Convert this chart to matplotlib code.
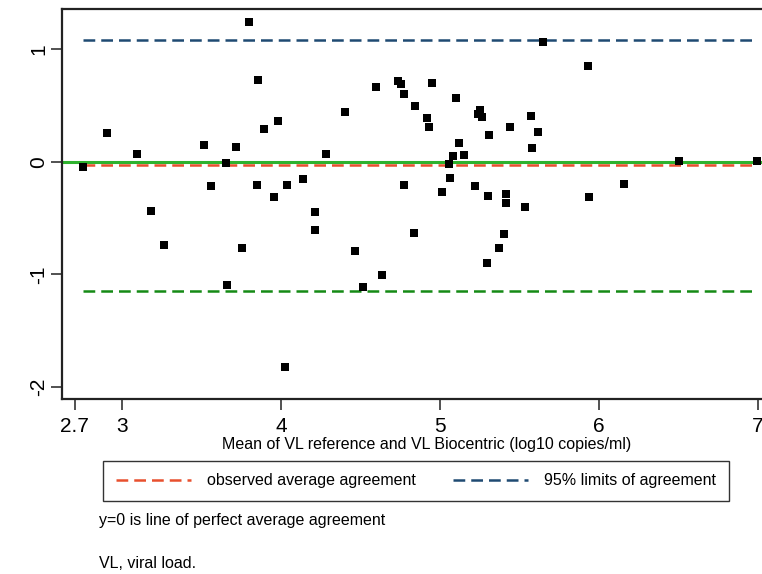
import matplotlib.pyplot as plt
from matplotlib.lines import Line2D

plt.rcParams['font.family'] = ['Liberation Sans', 'DejaVu Sans']

# mean of the two measurements (log10 copies/ml) and their difference
mean_vl = [2.754, 2.905, 3.094, 3.180, 3.260, 3.516, 3.558, 3.654, 3.659, 3.715,
           3.755, 3.797, 3.848, 3.852, 3.893, 3.955, 3.980, 4.024, 4.035, 4.139,
           4.213, 4.213, 4.280, 4.400, 4.465, 4.513, 4.599, 4.633, 4.734, 4.754,
           4.773, 4.775, 4.838, 4.845, 4.918, 4.933, 4.948, 5.013, 5.059, 5.063,
           5.084, 5.103, 5.118, 5.149, 5.218, 5.237, 5.250, 5.263, 5.298, 5.300,
           5.307, 5.372, 5.403, 5.418, 5.418, 5.441, 5.537, 5.571, 5.578, 5.617,
           5.647, 5.930, 5.937, 6.159, 6.507, 6.994]
diff_vl = [-0.044, 0.258, 0.074, -0.439, -0.735, 0.151, -0.213, -0.009, -1.096, 0.136,
           -0.767, 1.244, -0.204, 0.726, 0.296, -0.308, 0.364, -1.825, -0.207, -0.154,
           -0.444, -0.604, 0.068, 0.442, -0.788, -1.108, 0.664, -1.004, 0.717, 0.693,
           -0.207, 0.604, -0.634, 0.495, 0.388, 0.314, 0.702, -0.267, -0.015, -0.145,
           0.053, 0.572, 0.166, 0.065, -0.213, 0.427, 0.462, 0.397, -0.895, -0.302,
           0.243, -0.767, -0.643, -0.284, -0.367, 0.314, -0.397, 0.412, 0.122, 0.264,
           1.067, 0.853, -0.314, -0.196, 0.006, 0.006]

mean_diff = -0.03
loa_upper = 1.084
loa_lower = -1.144

xticks = [2.7, 3, 4, 5, 6, 7]
xticklabels = ['2.7', '3', '4', '5', '6', '7']
yticks = [-2, -1, 0, 1]

red = '#e8502e'
navy = '#1f4a72'
green_dash = '#158a15'
green_solid = '#2eb22e'
dash = (0, (4.7, 2.4))

W, H = 762, 574
fig = plt.figure(figsize=(W / 100, H / 100), dpi=100)
ax = fig.add_axes([62 / W, 1 - 399 / H, 700 / W, 390 / H])

ax.axhline(0, color=green_solid, lw=2.2, zorder=1)
x0, x1 = min(mean_vl), max(mean_vl)
ax.hlines(loa_upper, x0, x1, colors=navy, lw=1.8, linestyles=dash, zorder=1)
ax.hlines(mean_diff, x0, x1, colors=red, lw=1.8, linestyles=dash, zorder=1)
ax.hlines(loa_lower, x0, x1, colors=green_dash, lw=1.8, linestyles=dash, zorder=1)

ax.plot(mean_vl, diff_vl, 's', color='black', ms=6.2, mew=0, zorder=3)

ax.set_xlim(2.62, 7.028)
ax.set_ylim(-2.107, 1.36)
ax.set_xticks(xticks)
ax.set_xticklabels(xticklabels)
ax.set_yticks(yticks)
ax.set_yticklabels([str(v) for v in yticks], rotation=90, va='center')
ax.tick_params(axis='both', length=8, width=1.2, color='#333333', labelsize=15)
ax.tick_params(axis='x', pad=5)
ax.tick_params(axis='y', pad=2)

for s in ['left', 'bottom', 'top']:
    ax.spines[s].set_linewidth(1.6)
    ax.spines[s].set_color('#222222')
ax.spines['right'].set_visible(False)

fs = 11.5
fig.text(427 / W, 1 - 444 / H, 'Mean of VL reference and VL Biocentric (log10 copies/ml)',
         ha='center', va='center', fontsize=fs)

# legend box
handles = [Line2D([], [], color=red, lw=1.8, ls=dash),
           Line2D([], [], color=navy, lw=1.8, ls=dash)]
leg = fig.legend(handles, ['observed average agreement', '95% limits of agreement'],
                 loc='center', bbox_to_anchor=(416 / W, 1 - 481 / H), ncol=2,
                 fontsize=fs, frameon=True, fancybox=False, handlelength=4.7,
                 columnspacing=2.3, borderpad=0.8, handletextpad=1.0)
leg.get_frame().set_edgecolor('black')
leg.get_frame().set_linewidth(1.0)

fig.text(99 / W, 1 - 521 / H, 'y=0 is line of perfect average agreement', ha='left', va='center', fontsize=fs)
fig.text(99 / W, 1 - 564 / H, 'VL, viral load.', ha='left', va='center', fontsize=fs)

fig.savefig('out.png', dpi=100)
